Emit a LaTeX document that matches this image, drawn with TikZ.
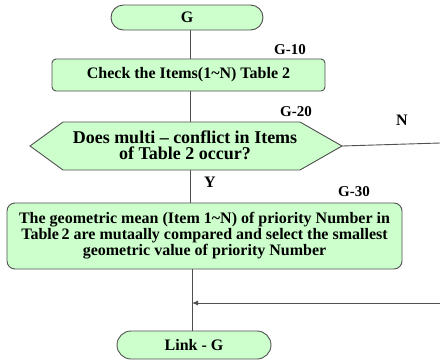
\documentclass[tikz,border=0pt]{standalone}
\usepackage{fontspec}
\setmainfont{Liberation Serif}
\usetikzlibrary{shapes.misc,arrows.meta}
\definecolor{boxfill}{RGB}{204,255,204}
\definecolor{lineclr}{RGB}{80,80,80}
\tikzset{
  terminal/.style={rounded rectangle, draw=lineclr, fill=boxfill, line width=0.9pt,
    inner sep=0pt, font=\fontsize{16}{16}\selectfont\bfseries},
  process/.style={rectangle, draw=lineclr, fill=boxfill, line width=0.9pt,
    inner sep=0pt, align=center, font=\fontsize{16}{16}\selectfont\bfseries},
  steplabel/.style={font=\fontsize{15}{15}\selectfont\bfseries, inner sep=0pt},
  flow/.style={draw=lineclr, line width=0.9pt},
}
\begin{document}
\begin{tikzpicture}[x=1pt,y=-1pt]
\useasboundingbox (0,0) rectangle (440,360);

% start terminal
\node[terminal, minimum width=152pt, minimum height=25pt] (g) at (187,17.5) {G};

% G-10 process
\node[process, rounded corners=4pt, minimum width=273pt, minimum height=32pt] (check) at (188.5,75)
  {Check the Items(1\textasciitilde N) Table 2};
\node[steplabel] (l10) at (290,50) {G-10};

% G-20 decision (hexagon)
\coordinate (qleft) at (30,146);
\coordinate (qright) at (342,146);
\coordinate (qtop) at (190,122);
\coordinate (qbot) at (190,170);
\draw[draw=lineclr, fill=boxfill, line width=0.9pt]
  (qleft) -- (63,122) -- (300,122) -- (qright) -- (300,170) -- (63,170) -- cycle;
\node[align=center, inner sep=0pt, font=\fontsize{18}{16}\selectfont\bfseries] (q) at (185,145.5)
  {Does multi \textendash\ conflict in Items\\of Table 2 occur?};
\node[steplabel] (l20) at (296,112) {G-20};

% G-30 process
\node[process, rounded corners=8pt, minimum width=395pt, minimum height=66pt] (mean) at (204.5,236)
  {The geometric mean (Item 1\textasciitilde N) of priority Number in\\
   Table\,2 are mutaally compared and select the smallest\\
   geometric value of priority Number};
\node[steplabel] (l30) at (354,192) {G-30};

% end terminal
\node[terminal, minimum width=154pt, minimum height=28pt] (link) at (194,345) {Link - G};

% branch labels
\node[font=\fontsize{16}{16}\selectfont\bfseries, inner sep=0pt] (nlab) at (402,120) {N};
\node[font=\fontsize{16}{16}\selectfont\bfseries, inner sep=0pt] (ylab) at (210,182) {Y};

% connectors
\coordinate (trunk) at (190,0);
\coordinate (trunkb) at (192,0);
\draw[flow] (g.south -| trunk) -- (check.north -| trunk);
\draw[flow] (check.south -| trunk) -- (qtop);
\draw[flow] (qbot) -- (mean.north -| trunk);
\draw[flow] (mean.south -| trunkb) -- (link.north -| trunkb);

% N branch leaves to the right and comes back above Link - G
\coordinate (nend) at (440,143);
\coordinate (nret) at (440,303);
\coordinate (njoin) at (192,303);
\draw[flow] (qright) -- (nend);
\draw[flow, -{Latex[length=6pt,width=5pt]}] (nret) -- (njoin);
\end{tikzpicture}
\end{document}
